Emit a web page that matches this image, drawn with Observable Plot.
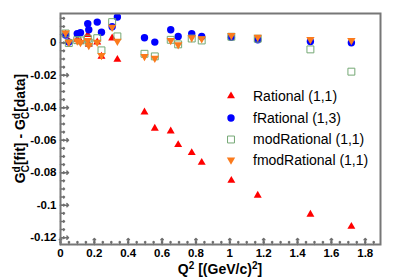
<!DOCTYPE html>
<html><head><meta charset="utf-8">
<script src="https://cdn.jsdelivr.net/npm/d3@7"></script>
<script src="https://cdn.jsdelivr.net/npm/@observablehq/plot@0.6"></script>
<style>
html,body{margin:0;padding:0;background:#fff;}
#chart{width:399px;height:279px;}
</style></head><body><div id="chart"></div>
<script>
// Q^2 values (GeV/c)^2
const q2 = [0.030,0.049,0.099,0.118,0.161,0.167,0.217,0.242,0.305,0.336,0.496,0.557,0.651,0.695,0.775,0.834,1.009,1.165,1.476,1.718];
// residuals G_C^d[fit] - G_C^d[data]
const rational     = [0.0051,0.0008,0.0020,0.0008,0.0049,-0.0010,0.0004,-0.0084,0.0028,-0.0103,-0.0427,-0.0527,-0.0544,-0.0628,-0.0677,-0.0737,-0.0848,-0.0940,-0.1057,-0.1131];
const fRational    = [0.0048,0.0004,0.0055,0.0062,0.0117,0.0080,0.0127,0.0065,0.0098,0.0158,0.0031,0.0004,0.0080,0.0039,0.0055,0.0039,0.0034,0.0018,0.0008,0.0000];
const modRational  = [0.0057,-0.0002,0.0016,0.0014,0.0025,0.0002,0.0028,-0.0047,0.0127,0.0039,-0.0068,-0.0084,0.0018,-0.0010,0.0026,0.0014,0.0037,0.0025,-0.0041,-0.0178];
const fmodRational = [0.0060,0.0004,0.0011,0.0002,0.0014,-0.0017,0.0004,-0.0078,0.0096,0.0010,-0.0084,-0.0095,0.0014,-0.0012,0.0031,0.0025,0.0045,0.0034,0.0020,0.0014];
const seriesNames = ["Rational (1,1)", "fRational (1,3)", "modRational (1,1)", "fmodRational (1,1)"];
const xTickLabels = [0,0.2,0.4,0.6,0.8,1,1.2,1.4,1.6,1.8];
const yTickLabels = [0,-0.02,-0.04,-0.06,-0.08,-0.1,-0.12];

const xMinor = d3.range(0, 38).map(i => i * 0.05);
const yMinor = d3.range(-24, 4).map(i => i * 0.005);
const rows = vals => q2.map((q, i) => ({q2: q, v: vals[i]}));

const font = '"Liberation Sans", Arial, Helvetica, sans-serif';
const RED = "#ff0000", BLUE = "#0000ff", GREEN = "#74a874", ORANGE = "#fb7a1c";
const tickColor = "#6e6e6e";
const R = {tri: 2.95, circ: 3.7, sq: 3.9, down: 3.1};

const plot = Plot.plot({
  width: 399, height: 279,
  marginLeft: 60, marginRight: 19, marginTop: 13, marginBottom: 35,
  style: {fontFamily: font, background: "#fff", overflow: "visible"},
  x: {domain: [0, 1.89]},
  y: {domain: [-0.1242, 0.018]},
  marks: [
    Plot.vector(xMinor, {x: d => d, frameAnchor: "bottom", length: 3, rotate: 0, anchor: "start", stroke: tickColor}),
    Plot.vector(xTickLabels, {x: d => d, frameAnchor: "bottom", length: 6, rotate: 0, anchor: "start", stroke: tickColor}),
    Plot.vector(yMinor, {y: d => d, frameAnchor: "left", length: 4, rotate: 90, anchor: "start", stroke: tickColor}),
    Plot.vector(yTickLabels, {y: d => d, frameAnchor: "left", length: 8, rotate: 90, anchor: "start", stroke: tickColor}),
    Plot.axisX({ticks: xTickLabels, tickSize: 0, tickPadding: 4, label: null,
      tickFormat: d => String(+d.toFixed(1)), fontSize: 11.5, fontWeight: "bold", fill: "#000"}),
    Plot.axisY({ticks: yTickLabels, tickSize: 0, tickPadding: 4, label: null,
      tickFormat: d => d === 0 ? "0" : String(+d.toFixed(2)), fontSize: 11.5, fontWeight: "bold", fill: "#000"}),
    Plot.dot(rows(rational), {x: "q2", y: "v", symbol: "triangle", r: R.tri, fill: RED, stroke: "none"}),
    Plot.dot(rows(fRational), {x: "q2", y: "v", symbol: "circle", r: R.circ, fill: BLUE, stroke: "none"}),
    Plot.dot(rows(modRational), {x: "q2", y: "v", symbol: "square", r: R.sq, fill: "none", stroke: GREEN, strokeWidth: 1}),
    Plot.dot(rows(fmodRational), {x: "q2", y: "v", symbol: "triangle", rotate: 180, r: R.down, fill: ORANGE, stroke: "none"}),
    Plot.frame({stroke: "#777", strokeWidth: 2})
  ]
});

const svg = d3.select(plot);

// x title
const xt = svg.append("text")
  .attr("x", 220).attr("y", 273.5)
  .attr("text-anchor", "middle")
  .attr("font-family", font).attr("font-weight", "bold").attr("font-size", 14).attr("fill", "#000");
xt.append("tspan").text("Q");
xt.append("tspan").attr("dy", -5).attr("font-size", 10).text("2");
xt.append("tspan").attr("dy", 5).text(" [(GeV/c)");
xt.append("tspan").attr("dy", -5).attr("font-size", 10).text("2");
xt.append("tspan").attr("dy", 5).text("]");

// y title
const yt = svg.append("text")
  .attr("transform", "translate(25,128.5) rotate(-90)")
  .attr("text-anchor", "middle")
  .attr("font-family", font).attr("font-weight", "bold").attr("font-size", 14).attr("fill", "#000");
function gcd(post) {
  yt.append("tspan").text("G");
  yt.append("tspan").attr("dy", -5.5).attr("font-size", 10).text("d");
  yt.append("tspan").attr("dx", -6).attr("dy", 9.5).attr("font-size", 10).text("C");
  yt.append("tspan").attr("dy", -4).text(post);
}
gcd("[fit] - ");
gcd("[data]");

// legend
const legendSymbols = [
  {sym: d3.symbolTriangle, rot: 0, fill: RED, stroke: "none", r: R.tri},
  {sym: d3.symbolCircle, rot: 0, fill: BLUE, stroke: "none", r: R.circ},
  {sym: d3.symbolSquare, rot: 0, fill: "none", stroke: GREEN, r: R.sq},
  {sym: d3.symbolTriangle, rot: 180, fill: ORANGE, stroke: "none", r: R.down}
];
const legendY = [96, 118, 139.5, 160];
const lg = svg.append("g").attr("font-family", font).attr("font-size", 14).attr("text-anchor", "start");
seriesNames.forEach((name, i) => {
  const s = legendSymbols[i];
  lg.append("path")
    .attr("d", d3.symbol(s.sym, Math.PI * s.r * s.r)())
    .attr("transform", `translate(231,${legendY[i]}) rotate(${s.rot})`)
    .attr("fill", s.fill).attr("stroke", s.stroke);
  lg.append("text").attr("x", 253).attr("y", legendY[i]).attr("dy", "0.35em")
    .attr("text-anchor", "start")
    .attr("fill", "#000").text(name);
});

document.getElementById("chart").appendChild(plot);
</script>
</body></html>
